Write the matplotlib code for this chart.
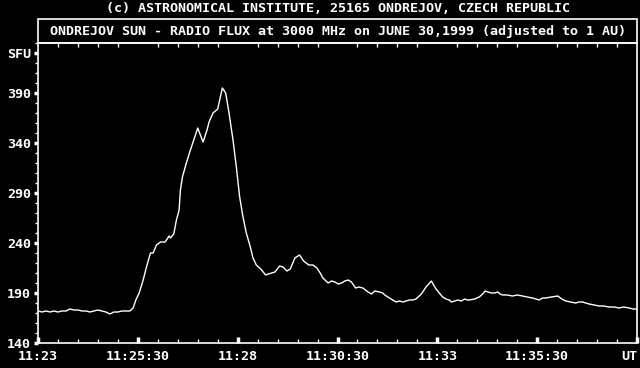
import numpy as np
import matplotlib
matplotlib.use("Agg")
import matplotlib.pyplot as plt
from matplotlib.patches import Rectangle

# seconds after 11:23:00 UT and flux in SFU
base_t = [0, 6, 12, 18, 24, 30, 36, 42, 48, 54, 60, 66, 72, 78, 84, 90, 96, 102,
          108, 114, 120, 126, 132, 138]
base_v = [172, 171, 172, 171, 172, 171, 172, 172, 174, 173, 173, 172, 172, 171,
          172, 173, 172, 171, 169, 171, 171, 172, 172, 172]

burst_t = [143, 147, 152, 158, 163, 169, 173, 178, 184, 191, 197, 199, 204, 208,
           212, 214, 217, 222, 228, 234, 240, 248, 254, 257, 263, 270, 277, 282,
           287, 293, 298, 303, 308, 313, 319, 323, 328, 333]
burst_v = [175, 183, 190, 203, 216, 230, 230, 238, 241, 241, 247, 245, 249, 263,
           273, 293, 306, 318, 331, 343, 355, 341, 353, 361, 370, 374, 395, 390,
           370, 343, 316, 286, 266, 250, 236, 225, 218, 215]

decay_t = [336, 342, 346, 351, 356, 363, 368, 374, 379, 386, 393, 399, 403, 407,
           413, 419, 424, 428, 436, 441, 446, 451, 456, 461, 466, 471, 477, 482,
           488, 492, 496, 501, 506, 513, 518, 521, 528, 533, 538, 543, 548, 553,
           558, 563, 568, 576, 583, 591, 598, 603, 608, 613, 618]
decay_v = [213, 208, 209, 210, 211, 217, 216, 212, 214, 225, 228, 222, 220, 218,
           218, 215, 210, 205, 200, 202, 201, 199, 200, 202, 203, 201, 195, 196,
           195, 193, 191, 189, 192, 191, 190, 188, 185, 183, 181, 182, 181, 182,
           183, 183, 184, 189, 196, 202, 194, 190, 186, 184, 183]

tail_t = [621, 626, 631, 636, 641, 645, 648, 656, 663, 668, 672, 676, 681, 686,
          691, 694, 698, 705, 713, 720, 728, 735, 743, 748, 753, 758, 763, 771,
          781, 787, 793, 800, 808, 813, 818, 823, 828, 836, 843, 850, 858, 866,
          873, 880, 888, 894, 900]
tail_v = [181, 182, 183, 182, 184, 183, 183, 184, 186, 189, 192, 191, 190, 190,
          191, 189, 188, 188, 187, 188, 187, 186, 185, 184, 183, 185, 185, 186,
          187, 184, 182, 181, 180, 181, 181, 180, 179, 178, 177, 177, 176, 176,
          175, 176, 175, 174, 174]

x_ticks = [0, 150, 300, 450, 600, 750, 900]
x_labels = ["11:23", "11:25:30", "11:28", "11:30:30", "11:33", "11:35:30", "UT"]
y_ticks = [140, 190, 240, 290, 340, 390, 430]
y_labels = ["140", "190", "240", "290", "340", "390", "SFU"]

t_sec = base_t + burst_t + decay_t + tail_t
flux = base_v + burst_v + decay_v + tail_v

font = {"family": "DejaVu Sans Mono", "weight": "bold", "size": 9.6}

fig = plt.figure(figsize=(6.4, 3.68), dpi=100, facecolor="black")
W, H = 640.0, 368.0
ax = fig.add_axes([38 / W, (H - 343) / H, 599 / W, 300 / H])
ax.set_facecolor("black")

ax.plot(t_sec, flux, color="white", lw=1.0)
ax.set_xlim(0, 900)
ax.set_ylim(140, 440)

for s in ax.spines.values():
    s.set_color("white")
    s.set_linewidth(1.2)

ax.set_xticks(x_ticks)
ax.set_xticklabels(x_labels, **font)
ax.set_xticks(np.arange(0, 901, 30), minor=True)
ax.set_yticks(y_ticks)
ax.set_yticklabels(y_labels, **font)
ax.set_yticks(np.arange(140, 441, 10), minor=True)

ax.tick_params(axis="x", which="major", direction="in", length=4, width=2.5,
               color="white", labelcolor="white", pad=5, top=False)
ax.tick_params(axis="x", which="minor", direction="in", length=3, width=1,
               color="white", top=True)
ax.tick_params(axis="y", which="major", direction="out", length=3, width=2.5,
               color="white", labelcolor="white", pad=2)
ax.tick_params(axis="y", which="minor", direction="out", length=2, width=1,
               color="white")
ax.get_xticklabels()[-1].set_ha("right")

# title box above the plot area
fig.patches.append(Rectangle((38 / W, (H - 43) / H), 599 / W, 24 / H,
                             transform=fig.transFigure, fill=False,
                             edgecolor="white", lw=1.2))
fig.text(338 / W, (H - 31) / H,
         "ONDREJOV SUN - RADIO FLUX at 3000 MHz on JUNE 30,1999 (adjusted to 1 AU)",
         color="white", ha="center", va="center", **font)
fig.text(338 / W, (H - 8) / H,
         "(c) ASTRONOMICAL INSTITUTE, 25165 ONDREJOV, CZECH REPUBLIC",
         color="white", ha="center", va="center", **font)

fig.savefig("out.png", dpi=100, facecolor="black")
